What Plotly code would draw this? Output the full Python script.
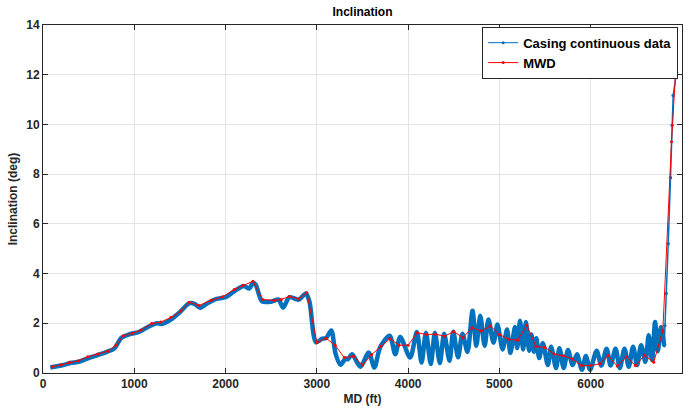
import plotly.graph_objects as go

# MWD survey stations
mwd_md = [100, 200, 290, 390, 490, 600, 710, 800, 880, 980, 1070, 1190, 1290, 1400, 1510,
          1600, 1710, 1840, 1970, 2095, 2190, 2300, 2405, 2530, 2610, 2700, 2800, 2890,
          3000, 3100, 3200, 3300, 3400, 3500, 3600, 3700, 3800, 3900, 4000, 4100, 4200,
          4300, 4400, 4500, 4600, 4700, 4800, 4900, 5000, 5100, 5200, 5300, 5400, 5500,
          5600, 5700, 5800, 5900, 6000, 6100, 6190, 6290, 6390, 6490, 6590, 6690, 6790,
          6885, 6930]
mwd_inc = [0.25, 0.33, 0.43, 0.49, 0.65, 0.76, 0.88, 1.12, 1.5, 1.6, 1.72, 1.99, 2.05, 2.23, 2.49,
           2.85, 2.72, 2.92, 3.07, 3.36, 3.52, 3.69, 2.96, 2.92, 2.96, 3.08, 2.98, 3.23,
           1.22, 1.4, 1.12, 0.62, 0.67, 0.32, 0.74, 1.07, 1.38, 1.12, 1.12, 1.62, 1.55,
           1.56, 1.48, 1.67, 1.42, 1.82, 1.69, 1.89, 1.55, 1.36, 1.32, 1.92, 1.07, 1.03,
           0.76, 0.69, 0.56, 0.3, 0.3, 0.37, 0.7, 0.28, 0.65, 0.3, 0.71, 0.43, 1.7,
           9.3, 12.1]

# Casing continuous data (key points)
cas_md = [80, 200, 300, 400, 500, 600, 700, 780, 860, 950, 1050, 1150, 1250, 1300, 1400,
          1500, 1600, 1660, 1720, 1800, 1900, 2000, 2100, 2200, 2260, 2300, 2330, 2400,
          2500, 2580, 2630, 2700, 2800, 2880, 2920, 2990, 3060, 3100, 3158, 3204, 3259,
          3314, 3340, 3386, 3477, 3568, 3630, 3695, 3797, 3859, 3913, 4022, 4095, 4147,
          4195, 4248, 4293, 4347, 4394, 4453, 4494, 4547, 4595, 4650, 4705, 4747, 4790,
          4838, 4880, 4935, 4978, 5035, 5083, 5120, 5170, 5195, 5225, 5260, 5290, 5325,
          5350, 5378, 5405, 5435, 5475, 5530, 5566, 5620, 5657, 5704, 5751, 5802, 5849,
          5903, 5947, 5993, 6065, 6116, 6174, 6218, 6272, 6319, 6370, 6417, 6464, 6508,
          6552, 6599, 6635, 6672, 6705, 6735, 6770, 6805]
cas_inc = [0.22, 0.3, 0.4, 0.46, 0.6, 0.72, 0.85, 0.98, 1.42, 1.56, 1.65, 1.85, 2.0, 1.97, 2.15,
           2.45, 2.8, 2.78, 2.62, 2.8, 2.98, 3.05, 3.3, 3.5, 3.4, 3.62, 3.55, 2.88,
           2.87, 2.95, 2.63, 3.05, 2.95, 3.2, 2.85, 1.24, 1.38, 1.4, 1.71, 0.79, 0.33,
           0.58, 0.55, 0.75, 0.25, 0.82, 0.22, 1.05, 1.5, 0.75, 1.45, 0.62, 1.65, 0.42,
           1.62, 0.36, 1.62, 0.4, 1.58, 0.49, 1.66, 0.63, 1.58, 0.85, 2.5, 1.1, 2.3,
           1.1, 2.15, 1.22, 1.95, 0.95, 1.75, 0.8, 1.85, 1.0, 2.1, 0.95, 2.05, 0.9,
           1.55, 0.85, 1.4, 0.6, 1.2, 0.32, 1.06, 0.2, 1.0, 0.2, 0.93, 0.32, 0.75,
           0.13, 0.68, 0.13, 0.9, 0.3, 0.98, 0.3, 0.98, 0.2, 0.98, 0.25, 1.06, 0.32,
           1.12, 0.45, 1.52, 0.52, 2.05, 0.88, 1.85, 1.1]

# Casing build section (sparser sampling)
build_md = [6805, 6812, 6827, 6849, 6874, 6892, 6903, 6940]
build_inc = [1.1, 1.9, 3.2, 5.2, 7.85, 9.97, 11.16, 12.09]

BLUE = "#0072BD"
RED = "#FF0000"
FONT = "Liberation Sans, Arial, sans-serif"

fig = go.Figure()

fig.add_trace(go.Scatter(x=cas_md, y=cas_inc, mode="lines", line=dict(color=BLUE, width=4.5, shape="spline", smoothing=0.8),
                         showlegend=False, hoverinfo="skip"))
fig.add_trace(go.Scatter(x=build_md, y=build_inc, mode="lines+markers", line=dict(color=BLUE, width=1.5),
                         marker=dict(color=BLUE, size=3.5), showlegend=False, hoverinfo="skip"))
fig.add_trace(go.Scatter(x=mwd_md, y=mwd_inc, mode="lines+markers", line=dict(color=RED, width=1),
                         marker=dict(color=RED, size=3), showlegend=False))

# legend entries
fig.add_trace(go.Scatter(x=[None], y=[None], mode="lines+markers", name="Casing continuous data",
                         line=dict(color=BLUE, width=1), marker=dict(color=BLUE, size=3)))
fig.add_trace(go.Scatter(x=[None], y=[None], mode="lines+markers", name="MWD",
                         line=dict(color=RED, width=1), marker=dict(color=RED, size=3)))

axis_common = dict(
    showgrid=True, gridcolor="#e3e3e3", gridwidth=1,
    showline=True, linecolor="#262626", linewidth=1, mirror="ticks",
    ticks="inside", ticklen=5, tickcolor="#262626",
    tickfont=dict(family=FONT, size=12, color="#262626", weight="bold"),
    zeroline=False,
)

fig.update_layout(
    width=695, height=416,
    margin=dict(l=41, r=12, t=25, b=38),
    paper_bgcolor="white", plot_bgcolor="white",
    font=dict(family=FONT, color="#262626"),
    title=dict(text="<b>Inclination</b>", x=0.5, xref="paper", y=1 - 12 / 416, yref="container",
               xanchor="center", yanchor="middle", font=dict(family=FONT, size=12, color="black")),
    xaxis=dict(range=[0, 7000], dtick=1000, tick0=0,
               title=dict(text="<b>MD (ft)</b>", standoff=4, font=dict(family=FONT, size=12, color="#262626")),
               **axis_common),
    yaxis=dict(range=[0, 14], dtick=2, tick0=0,
               title=dict(text="<b>Inclination (deg)</b>", standoff=6, font=dict(family=FONT, size=12, color="#262626")),
               **axis_common),
    legend=dict(x=0.994, y=0.995, xanchor="right", yanchor="top", bgcolor="white",
                bordercolor="#262626", borderwidth=1, itemwidth=30, tracegroupgap=0,
                font=dict(family=FONT, size=13, color="black", weight="bold")),
)

fig.write_html("out.html")
